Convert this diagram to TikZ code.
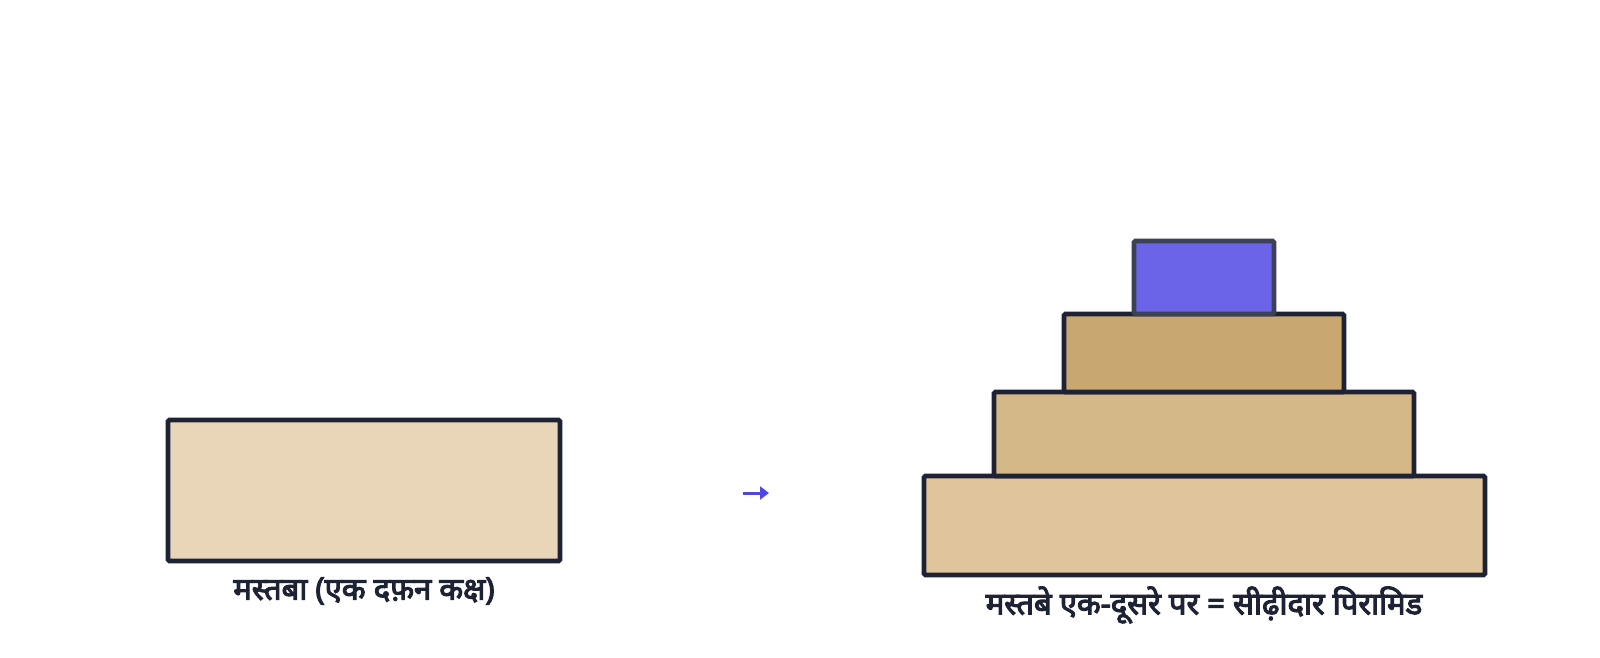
\documentclass[tikz,border=0pt]{standalone}
\usepackage{fontspec}
\newfontfamily\deva[Script=Devanagari, FakeBold=3.5]{Noto Sans}
\usetikzlibrary{arrows.meta}
\definecolor{ink}{HTML}{1E2235}
\definecolor{topink}{HTML}{3D4155}
\definecolor{mastabafill}{HTML}{E9D5B7}
\definecolor{basefill}{HTML}{E0C59C}
\definecolor{midfill}{HTML}{D5B888}
\definecolor{upfill}{HTML}{C8A870}
\definecolor{topfill}{HTML}{6B63E8}
\definecolor{arrowblue}{HTML}{4F46E5}
\tikzset{
  block/.style={draw=ink, line width=4.8pt, rounded corners=1.5pt},
  lbl/.style={font=\deva\fontsize{31}{36}\selectfont, text=ink, inner sep=0pt, anchor=center},
}
\begin{document}
\begin{tikzpicture}[x=1pt,y=-1pt]
\useasboundingbox (0,0) rectangle (1600,658);
\fill[white] (0,0) rectangle (1600,658);
% mastaba
\draw[block, fill=mastabafill] (168,420) rectangle (560,561);
\node[lbl] (l1) at (364,591) {मस्तबा (एक दफ़न कक्ष)};
% arrow
\coordinate (a1) at (743,493);
\coordinate (a2) at (769,493);
\draw[arrowblue, line width=3pt, -{Triangle[length=9pt,width=13pt]}] (a1) -- (a2);
% pyramid
\draw[block, fill=basefill] (924,476) rectangle (1485,575);
\draw[block, fill=midfill] (994,392) rectangle (1414,476);
\draw[block, fill=upfill] (1064,314) rectangle (1344,392);
\draw[block, draw=topink, fill=topfill] (1134,241) rectangle (1274,314);
\node[lbl] (l2) at (1204,605) {मस्तबे एक-दूसरे पर = सीढ़ीदार पिरामिड};
\end{tikzpicture}
\end{document}
